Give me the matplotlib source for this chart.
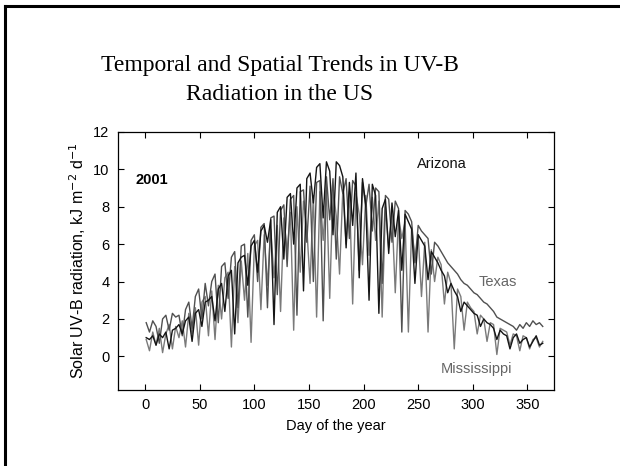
#%%
# imports
import matplotlib
matplotlib.use('Agg')
import matplotlib.pyplot as plt
from matplotlib.lines import Line2D

#%%
# Dados (um valor a cada 3 dias)
days = list(range(1, 365, 3))

arizona = [1.0, 0.9, 1.1, 0.6, 1.2, 1.0, 1.3, 0.4, 1.4, 1.5,
           1.7, 1.2, 1.9, 2.1, 0.8, 2.3, 2.5, 1.6, 2.9, 3.0,
           3.2, 1.9, 3.6, 3.9, 2.4, 4.3, 4.6, 1.2, 5.0, 5.3,
           5.4, 3.8, 5.9, 6.2, 4.5, 6.7, 7.0, 6.1, 7.3, 1.7,
           7.7, 8.0, 5.2, 8.5, 8.7, 6.0, 9.0, 9.2, 3.5, 9.5,
           9.8, 8.2, 10.1, 10.3, 7.4, 10.4, 9.9, 6.5, 10.4, 10.2,
           9.6, 5.8, 9.3, 7.0, 9.8, 4.2, 9.5, 8.1, 3.0, 9.2,
           8.6, 2.3, 7.9, 8.4, 5.5, 8.2, 6.4, 7.8, 4.6, 7.6,
           7.2, 6.8, 3.9, 6.5, 6.2, 5.9, 4.1, 5.6, 5.3, 5.0,
           4.6, 4.3, 3.4, 3.9, 3.5, 3.2, 2.4, 2.9, 2.7, 2.5,
           2.3, 2.2, 1.6, 2.0, 1.8, 1.7, 1.5, 0.9, 1.4, 1.2,
           1.1, 0.4, 1.0, 1.2, 0.7, 0.9, 1.0, 0.5, 0.8, 1.1,
           0.6, 0.7]

texas = [1.8, 1.3, 1.9, 1.6, 0.7, 2.0, 2.2, 1.4, 2.3, 2.1,
         2.2, 1.1, 2.5, 2.9, 1.5, 3.2, 3.6, 2.0, 3.9, 2.7,
         4.0, 4.4, 1.8, 4.8, 5.0, 3.1, 5.3, 5.6, 2.6, 5.9,
         6.0, 2.1, 6.2, 6.5, 4.0, 6.9, 7.1, 2.6, 7.4, 7.5,
         3.3, 7.8, 8.1, 4.8, 8.4, 8.6, 2.2, 8.8, 8.9, 6.1,
         9.1, 4.0, 9.3, 9.4, 1.9, 9.6, 7.3, 9.5, 5.2, 9.6,
         8.7, 9.5, 6.3, 9.4, 9.1, 4.6, 9.3, 8.0, 9.2, 6.7,
         9.0, 8.8, 3.9, 8.6, 8.4, 6.1, 8.3, 7.9, 1.3, 7.8,
         7.6, 7.2, 5.0, 7.0, 6.7, 6.5, 6.3, 4.4, 6.1, 5.9,
         5.6, 5.3, 5.0, 4.8, 4.6, 4.4, 4.1, 3.9, 3.8, 3.6,
         3.4, 3.3, 3.1, 2.9, 2.8, 2.6, 2.4, 2.1, 2.0, 1.9,
         1.8, 1.7, 1.6, 1.4, 1.7, 1.5, 1.8, 1.6, 1.9, 1.7,
         1.8, 1.6]

mississippi = [0.9, 0.3, 1.3, 0.6, 1.5, 0.2, 1.2, 1.7, 0.4, 1.6,
               1.0, 1.9, 0.5, 2.3, 1.2, 2.6, 0.6, 2.9, 3.2, 1.1,
               3.5, 0.9, 3.8, 2.0, 4.2, 4.5, 0.5, 4.8, 1.8, 5.1,
               3.0, 5.5, 0.75, 5.9, 6.2, 2.5, 6.5, 3.8, 6.8, 4.2,
               7.0, 2.4, 7.4, 5.6, 7.7, 1.4, 8.0, 4.5, 8.3, 6.9,
               3.9, 8.6, 2.1, 8.8, 6.2, 8.9, 3.1, 9.0, 7.5, 4.4,
               8.9, 6.0, 8.8, 2.8, 8.7, 7.6, 4.9, 8.6, 5.4, 8.5,
               6.2, 8.3, 2.1, 8.0, 5.8, 7.7, 3.4, 7.5, 6.3, 7.2,
               1.3, 6.9, 5.1, 6.5, 3.2, 6.1, 1.3, 5.7, 4.0, 5.3,
               4.9, 2.8, 4.5, 3.9, 0.4, 3.6, 3.2, 1.4, 2.9, 2.6,
               2.4, 1.2, 2.2, 2.0, 0.8, 1.8, 1.7, 0.1, 1.5, 1.4,
               1.3, 0.6, 1.2, 1.1, 0.3, 1.1, 1.0, 0.4, 0.9, 1.0,
               0.5, 0.8]

#%% Figura
plt.rcParams.update({'font.family': 'Liberation Sans', 'font.size': 10.5})
fig = plt.figure(figsize=(6.2, 4.66), dpi=100)
ax = fig.add_axes([0.190, 0.163, 0.703, 0.554])

ax.plot(days, mississippi, '-', color='#7a7a7a', lw=1.0)
ax.plot(days, texas, '-', color='#505050', lw=1.0)
ax.plot(days, arizona, '-', color='#151515', lw=1.0)

ax.set_xlim(-25, 374)
ax.set_ylim(-1.8, 12)
ax.set_xticks(range(0, 351, 50))
ax.set_yticks(range(0, 13, 2))
ax.tick_params(direction='in', top=True, right=True, length=4, width=0.8, pad=6)
for s in ax.spines.values():
    s.set_linewidth(0.9)

ax.set_xlabel('Day of the year', labelpad=5)
ax.set_ylabel('Solar UV-B radiation, kJ m$^{-2}$ d$^{-1}$', labelpad=4, fontsize=11.5)

ax.text(-9, 9.45, '2001', fontweight='bold', va='center', ha='left', fontsize=10.5)
ax.text(249, 10.3, 'Arizona', color='#111111', va='center', ha='left', fontsize=10.5)
ax.text(305, 4.0, 'Texas', color='#666666', va='center', ha='left', fontsize=10.5)
ax.text(271, -0.7, 'Mississippi', color='#666666', va='center', ha='left', fontsize=10.5)

fig.text(280/620, 1 - 80/466, 'Temporal and Spatial Trends in UV-B\nRadiation in the US',
         family='Liberation Serif', fontsize=17, ha='center', va='center', linespacing=1.45)

# moldura do slide
fig.add_artist(Line2D([5/620, 5/620], [0, 1 - 6/466], color='black', lw=2.2, transform=fig.transFigure))
fig.add_artist(Line2D([5/620, 1], [1 - 6/466, 1 - 6/466], color='black', lw=2.2, transform=fig.transFigure))

fig.savefig('out.png', dpi=100)
